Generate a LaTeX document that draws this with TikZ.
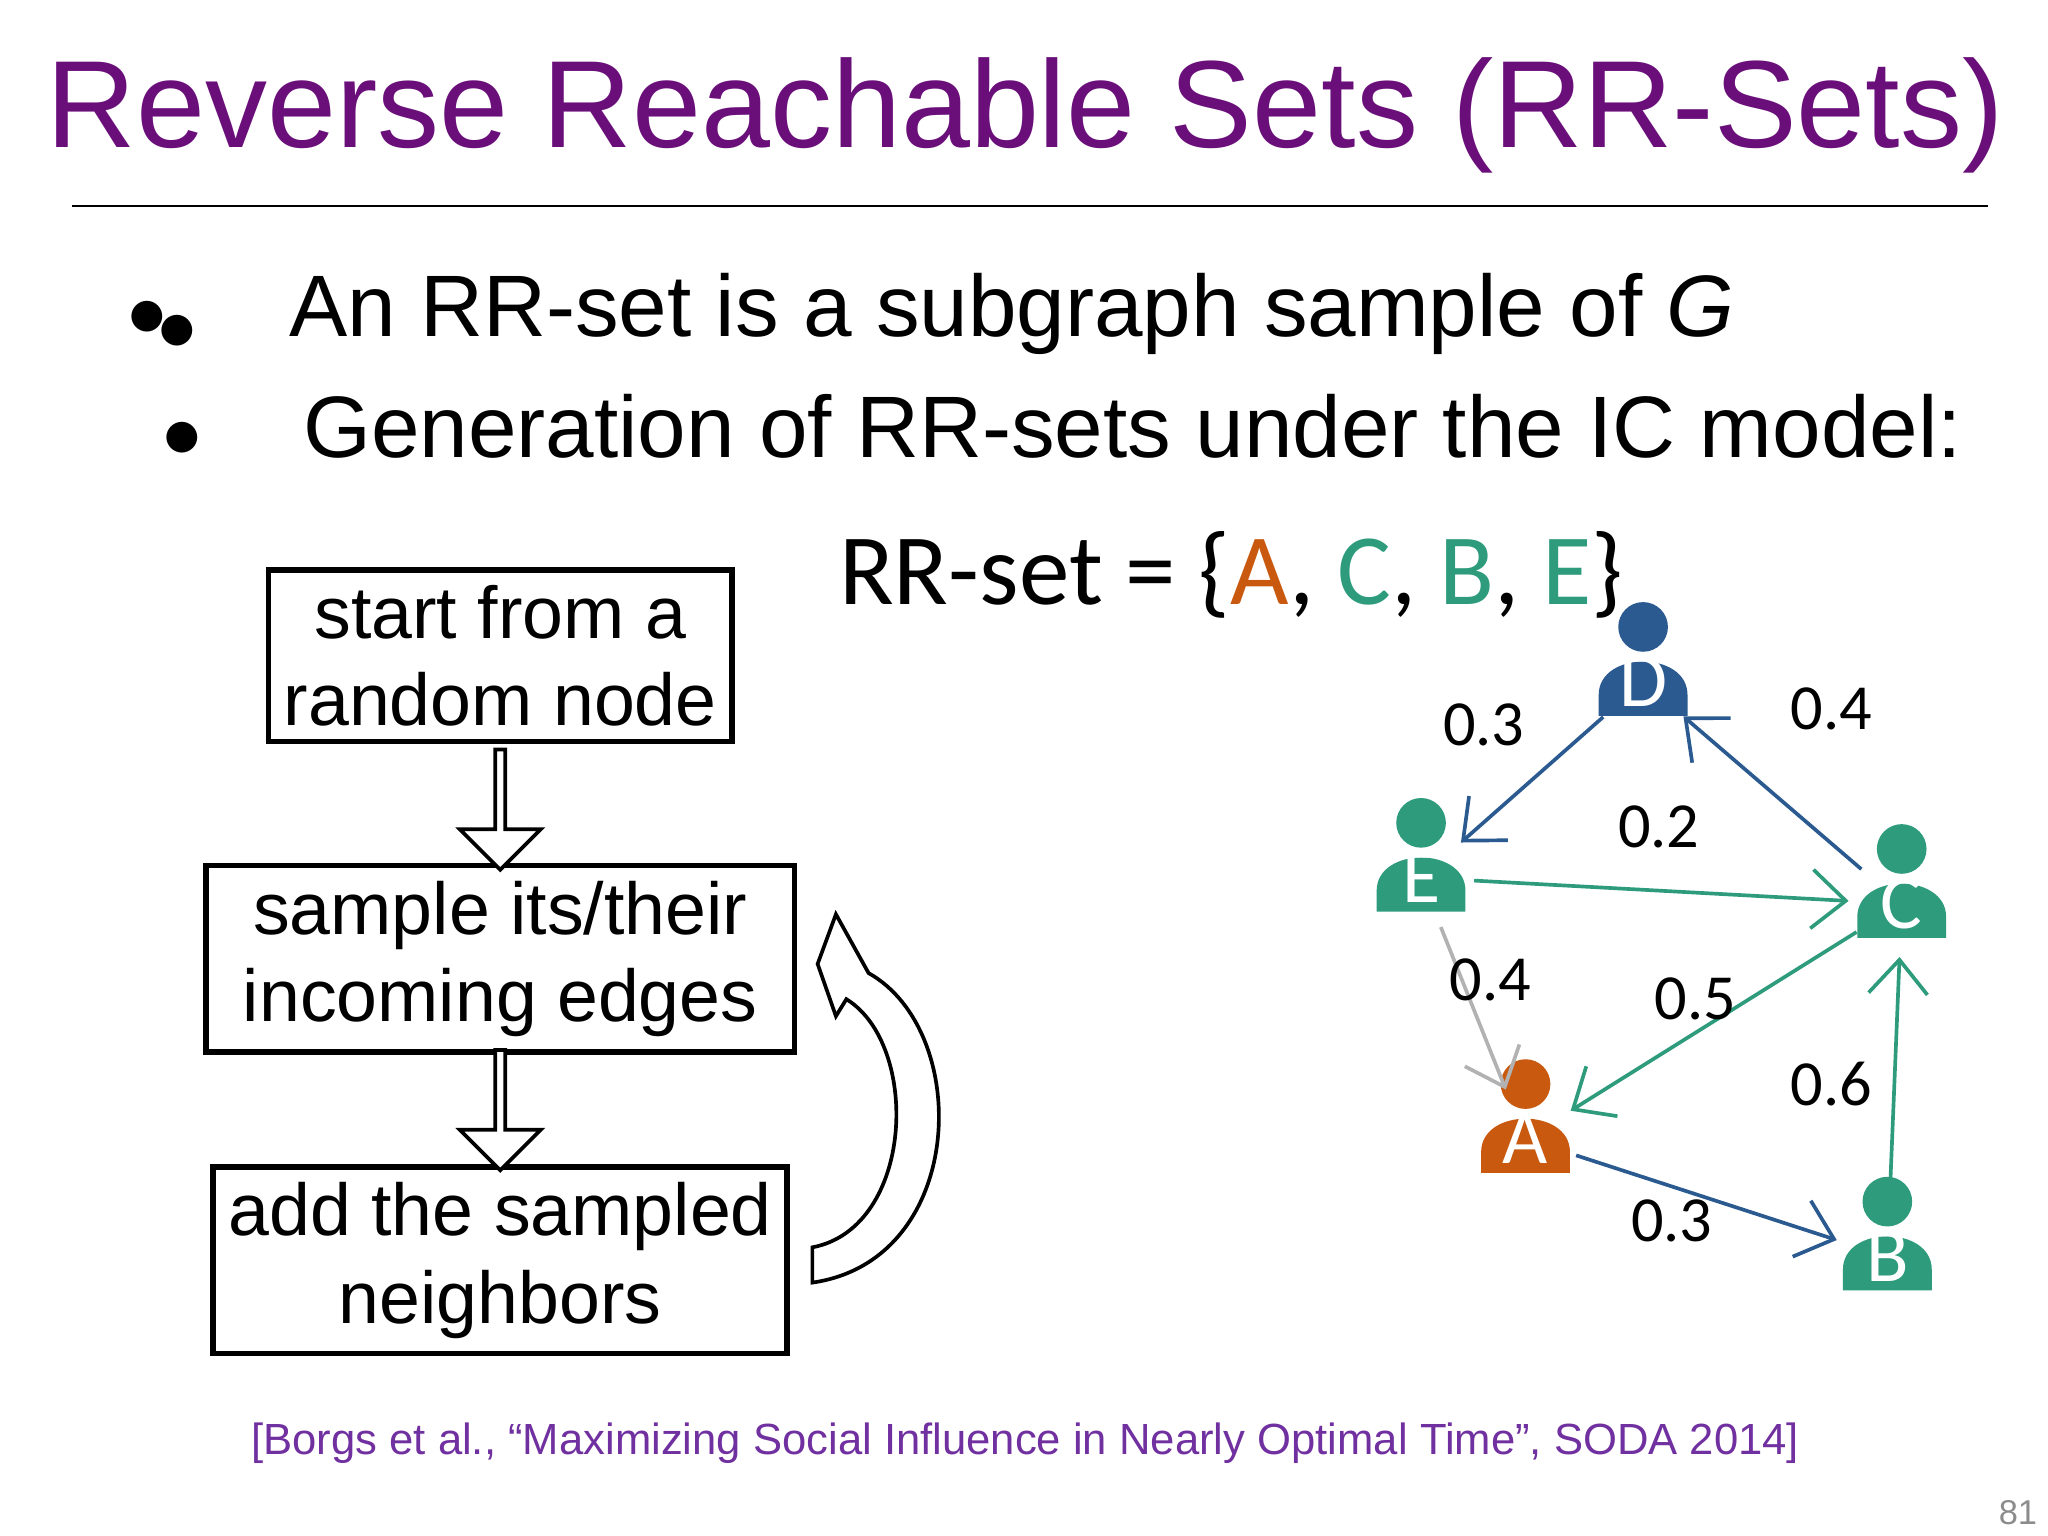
\documentclass[tikz,border=0pt]{standalone}
\usepackage{fontspec}
\setmainfont{Liberation Sans}
\newfontfamily\carlitofont{Carlito}
\usetikzlibrary{arrows.meta,shapes.arrows}
\definecolor{titlepurple}{HTML}{6A0F7A}
\definecolor{citepurple}{HTML}{7030A0}
\definecolor{rrorange}{HTML}{C8590E}
\definecolor{rrgreen}{HTML}{2E9C7C}
\definecolor{rrblue}{HTML}{2A5A90}
\tikzset{%
        flowbox/.style = {rectangle, draw, very thick, align = center, font = \fontsize{16}{19}\selectfont},
        downarrow/.style = {single arrow, draw, thick, fill = white, shape border rotate = 270, minimum height = 0.92cm, minimum width = 0.62cm, single arrow head extend = 0.1cm, inner sep = 0pt},
        person/.style = {circle, minimum size = 0.8cm, inner sep = 0pt, text = white, font = \carlitofont\fontsize{17}{17}\selectfont},
        edge/.style = {-{Straight Barb[length = 2.6mm, width = 4.5mm]}, thick},
        weight/.style = {font = \carlitofont\fontsize{14}{14}\selectfont}
    }
\begin{document}
\begin{tikzpicture}[x=0.01cm, y=-0.01cm]
\useasboundingbox (0,0) rectangle (1568,1176);
% title
\node[text = titlepurple, font = \fontsize{27}{30}\selectfont] (title) at (785,88) {Reverse Reachable Sets (RR-Sets)};
\draw (55,158) -- (1522,158);
% bullets
\node[anchor = base west, font = \fontsize{19}{22}\selectfont] (bulletA) at (85,258) {$\bullet$\hspace{-2pt}\raisebox{-3pt}{$\bullet$}\hspace{20pt}An RR-set is a subgraph sample of \textit{G}};
\node[anchor = base west, font = \fontsize{19}{22}\selectfont] (bulletB) at (112,350) {$\bullet$\hspace{22pt}Generation of RR-sets under the IC model:};
% flow chart
\node[flowbox, minimum width = 3.41cm, minimum height = 1.22cm] (start) at (383,502) {start from a\\random node};
\node[flowbox, minimum width = 4.5cm, minimum height = 1.22cm] (sample) at (383,734) {sample its/their\\incoming edges};
\node[flowbox, minimum width = 4.32cm, minimum height = 1.21cm] (add) at (383,965) {add the sampled\\neighbors};
\node[downarrow] (down1) at (383,618) {};
\node[downarrow] (down2) at (383,848) {};
\draw[thick, fill = white] (622,955) .. controls (700,940) and (705,800) .. (648,765) -- (640,778) -- (626,738) -- (640,700) -- (665,745) .. controls (745,790) and (740,965) .. (622,982) -- cycle;
% rr-set
\node[anchor = base west, font = \carlitofont\fontsize{22}{22}\selectfont] (rrset) at (630,463) {RR-set = \{\textcolor{rrorange}{A}, \textcolor{rrgreen}{C}, \textcolor{rrgreen}{B}, \textcolor{rrgreen}{E}\}};
% people
\foreach \name/\x/\y/\col in {D/1258/510/rrblue, E/1088/660/rrgreen, C/1456/680/rrgreen, A/1168/860/rrorange, B/1445/950/rrgreen} {
    \fill[\col] (\x,{\y-30}) circle (0.19cm);
    \fill[\col] ({\x-34},{\y+38}) -- ({\x-34},{\y+22}) .. controls ({\x-34},{\y-12}) and ({\x+34},{\y-12}) .. ({\x+34},{\y+22}) -- ({\x+34},{\y+38}) -- cycle;
    \node[person] (\name) at (\x,{\y+12}) {\name};
}
% edges
\draw[edge, rrblue] (D) -- (E);
\draw[edge, rrblue] (C) -- (D);
\draw[edge, rrgreen] (E) -- (C);
\draw[edge, black!30] (E) -- (A);
\draw[edge, rrgreen] (C) -- (A);
\draw[edge, rrgreen] (B) -- (C);
\draw[edge, rrblue] (A) -- (B);
\node[weight] (wDE) at (1136,555) {0.3};
\node[weight] (wCD) at (1402,543) {0.4};
\node[weight] (wEC) at (1270,633) {0.2};
\node[weight] (wEA) at (1141,750) {0.4};
\node[weight] (wCA) at (1298,765) {0.5};
\node[weight] (wBC) at (1402,830) {0.6};
\node[weight] (wAB) at (1280,935) {0.3};
% citation
\node[text = citepurple, font = \fontsize{9.5}{11}\selectfont] (cite) at (785,1105) {[Borgs et al., “Maximizing Social Influence in Nearly Optimal Time”, SODA 2014]};
\node[text = black!45, font = \fontsize{7.5}{9}\selectfont] (page) at (1545,1158) {81};
\end{tikzpicture}
\end{document}
